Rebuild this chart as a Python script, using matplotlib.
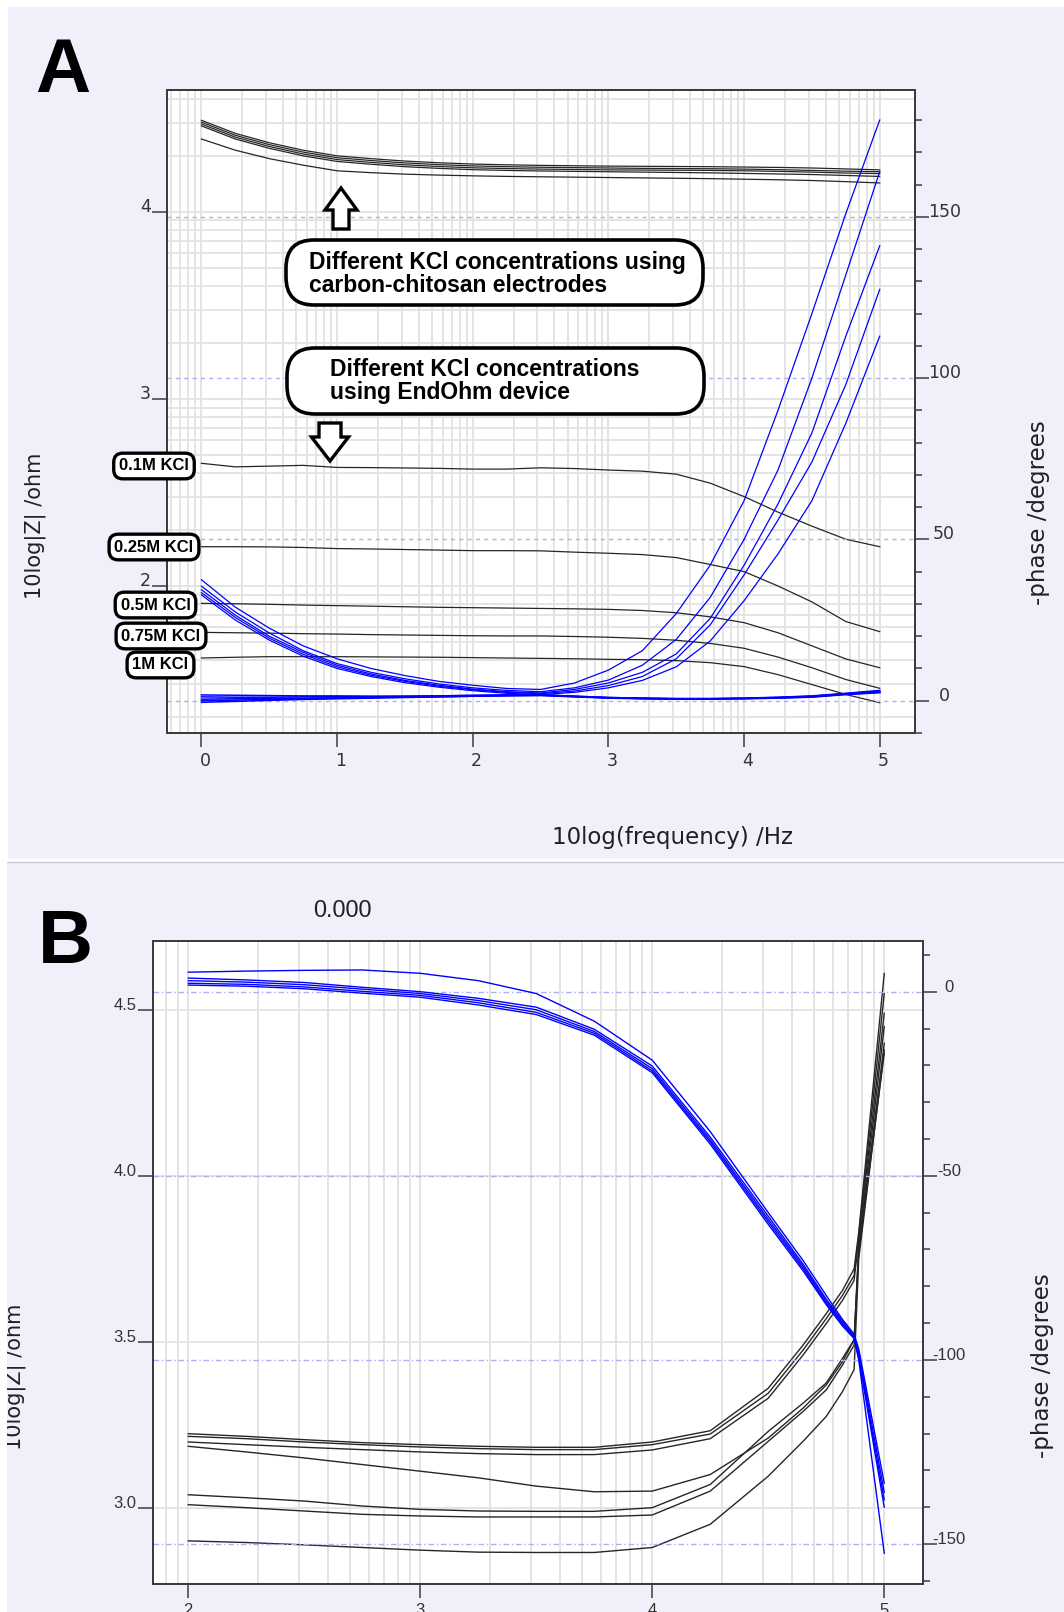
"""
Impedance spectra (|Z| and phase vs frequency) for KCl solutions.

Panel A: carbon-chitosan electrodes vs EndOhm device, 1 Hz - 100 kHz.
Panel B: zoom on 100 Hz - 100 kHz.

Output: out.png
"""

import matplotlib
matplotlib.use("Agg")
import matplotlib.pyplot as plt
import matplotlib.transforms as mtransforms
import numpy as np
from matplotlib import font_manager
from matplotlib.lines import Line2D
from matplotlib.patches import FancyArrow, FancyBboxPatch, Rectangle
from matplotlib.ticker import FixedLocator, NullLocator


W, H = 1064, 1612
LAVENDER = "#F0F0FB"
GRID = "#E2E2E2"
DASH_BLUE = "#AEB0F4"
TICK_COL = "#333333"
SPINE_COL = "#3C3C3C"
BLUE = "#0000FF"
BLACK = "#262626"

_installed = {f.name for f in font_manager.fontManager.ttflist}
NARROW = "Liberation Sans Narrow" if "Liberation Sans Narrow" in _installed else "Liberation Sans"
NARROW_SCALE = 1.0 if NARROW == "Liberation Sans Narrow" else 0.89
BOLD_FONT = "Liberation Sans"

# ---------------- panel A data (10log f, 10log|Z|, -phase) ----------------
freq_a = [0, 0.25, 0.5, 0.75, 1, 1.25, 1.5, 1.75, 2, 2.25, 2.5, 2.75,
          3, 3.25, 3.5, 3.75, 4, 4.25, 4.5, 4.75, 5]

# |Z| carbon-chitosan electrodes (top bundle)
a_z_carbon = [
    [4.49, 4.42, 4.37, 4.33, 4.30, 4.285, 4.272, 4.263, 4.256, 4.252, 4.249,
     4.247, 4.245, 4.244, 4.243, 4.242, 4.240, 4.238, 4.235, 4.230, 4.225],
    [4.48, 4.41, 4.36, 4.32, 4.29, 4.275, 4.262, 4.253, 4.246, 4.242, 4.239,
     4.237, 4.235, 4.233, 4.232, 4.231, 4.229, 4.226, 4.222, 4.218, 4.215],
    [4.47, 4.40, 4.35, 4.31, 4.28, 4.265, 4.252, 4.243, 4.236, 4.232, 4.229,
     4.227, 4.225, 4.224, 4.223, 4.222, 4.220, 4.217, 4.213, 4.208, 4.205],
    [4.46, 4.39, 4.34, 4.30, 4.27, 4.255, 4.242, 4.233, 4.226, 4.222, 4.219,
     4.217, 4.215, 4.213, 4.211, 4.209, 4.206, 4.203, 4.200, 4.195, 4.190],
    [4.39, 4.33, 4.285, 4.25, 4.22, 4.21, 4.202, 4.197, 4.193, 4.190, 4.188,
     4.186, 4.184, 4.182, 4.180, 4.178, 4.175, 4.172, 4.168, 4.162, 4.155],
]

# |Z| EndOhm device, 0.1M, 0.25M, 0.5M, 0.75M, 1M KCl
a_z_endohm = [
    [2.656, 2.637, 2.641, 2.645, 2.634, 2.633, 2.631, 2.629, 2.625, 2.625, 2.632,
     2.628, 2.620, 2.614, 2.598, 2.550, 2.478, 2.395, 2.320, 2.250, 2.210],
    [2.210, 2.210, 2.209, 2.206, 2.200, 2.198, 2.195, 2.192, 2.189, 2.189, 2.188,
     2.181, 2.175, 2.168, 2.152, 2.115, 2.077, 2.000, 1.915, 1.810, 1.756],
    [1.907, 1.905, 1.902, 1.898, 1.895, 1.892, 1.889, 1.886, 1.884, 1.882, 1.880,
     1.878, 1.875, 1.869, 1.857, 1.835, 1.804, 1.750, 1.680, 1.610, 1.563],
    [1.752, 1.750, 1.748, 1.745, 1.743, 1.740, 1.738, 1.736, 1.734, 1.733, 1.733,
     1.730, 1.726, 1.720, 1.710, 1.693, 1.667, 1.620, 1.563, 1.500, 1.453],
    [1.615, 1.619, 1.622, 1.622, 1.622, 1.621, 1.620, 1.619, 1.617, 1.615, 1.613,
     1.611, 1.608, 1.606, 1.601, 1.590, 1.569, 1.526, 1.473, 1.420, 1.376],
]
a_kcl_labels = ["0.1M KCl", "0.25M KCl", "0.5M KCl", "0.75M KCl", "1M KCl"]

# -phase carbon-chitosan electrodes
a_phase_carbon = [
    [37.5, 29.0, 22.5, 17.0, 13.0, 10.0, 7.8, 6.0, 4.8, 3.8, 3.5, 5.5,
     9.5, 15.5, 27.0, 42.0, 62.0, 90.0, 120.0, 151.0, 180.0],
    [35.5, 27.5, 21.0, 15.5, 11.5, 8.8, 6.8, 5.2, 4.0, 3.2, 2.8, 4.0,
     6.4, 11.0, 19.0, 32.0, 50.0, 71.5, 100.0, 132.0, 164.0],
    [34.4, 26.5, 20.0, 15.0, 11.0, 8.3, 6.3, 4.8, 3.6, 2.8, 2.4, 3.5,
     5.5, 8.8, 14.5, 25.5, 42.0, 61.0, 83.0, 113.0, 141.0],
    [33.5, 25.8, 19.4, 14.4, 10.5, 7.9, 6.0, 4.5, 3.4, 2.6, 2.2, 3.0,
     4.7, 7.5, 13.0, 23.5, 39.0, 56.0, 74.0, 98.0, 127.5],
    [32.8, 25.0, 18.8, 13.8, 10.0, 7.5, 5.6, 4.2, 3.1, 2.3, 1.9, 2.6,
     4.0, 6.3, 10.5, 18.5, 31.0, 45.5, 62.0, 86.0, 113.0],
]

# -phase EndOhm device
a_phase_endohm = [
    [1.8, 1.7, 1.6, 1.5, 1.5, 1.4, 1.4, 1.5, 1.6, 1.7, 1.8, 1.3,
     0.9, 0.7, 0.5, 0.5, 0.7, 0.9, 1.2, 2.0, 2.6],
    [0.5, 0.6, 0.7, 0.8, 0.9, 1.0, 1.1, 1.2, 1.4, 1.5, 1.6, 1.2,
     0.8, 0.6, 0.5, 0.5, 0.6, 0.8, 1.1, 1.9, 2.5],
    [-0.5, -0.2, 0.1, 0.4, 0.6, 0.8, 1.0, 1.2, 1.4, 1.6, 1.7, 1.3,
     0.9, 0.7, 0.6, 0.6, 0.7, 0.9, 1.3, 2.1, 2.7],
    [1.2, 1.1, 1.1, 1.2, 1.3, 1.3, 1.4, 1.5, 1.7, 1.8, 1.9, 1.4,
     1.0, 0.8, 0.6, 0.6, 0.8, 1.0, 1.4, 2.2, 3.0],
    [0.0, 0.2, 0.4, 0.6, 0.8, 1.0, 1.2, 1.4, 1.5, 1.7, 1.8, 1.4,
     1.0, 0.8, 0.7, 0.7, 0.8, 1.1, 1.5, 2.3, 3.2],
]

a_xticks = [0, 1, 2, 3, 4, 5]
a_yticks = [2, 3, 4]
a_ytick_labels = ["2", "3", "4"]
a_phase_ticks = [0, 50, 100, 150]
a_phase_labels = ["0", "50", "100", "150"]

# ---------------- panel B data ----------------
freq_b = [2.0, 2.25, 2.5, 2.75, 3.0, 3.25, 3.5, 3.75, 4.0, 4.25,
          4.5, 4.65, 4.75, 4.82, 4.87, 4.89, 5.0]

b_z = [
    [3.223, 3.215, 3.205, 3.196, 3.190, 3.185, 3.182, 3.182, 3.198, 3.232,
     3.360, 3.490, 3.585, 3.655, 3.720, 3.830, 4.610],
    [3.215, 3.208, 3.198, 3.190, 3.183, 3.178, 3.175, 3.175, 3.190, 3.222,
     3.345, 3.475, 3.570, 3.640, 3.700, 3.820, 4.550],
    [3.198, 3.190, 3.182, 3.175, 3.168, 3.163, 3.160, 3.160, 3.174, 3.208,
     3.330, 3.460, 3.555, 3.625, 3.685, 3.810, 4.490],
    [3.185, 3.168, 3.150, 3.130, 3.110, 3.090, 3.065, 3.048, 3.050, 3.100,
     3.210, 3.300, 3.370, 3.440, 3.506, 3.780, 4.400],
    [3.039, 3.030, 3.020, 3.005, 2.995, 2.990, 2.989, 2.989, 3.000, 3.070,
     3.230, 3.315, 3.376, 3.450, 3.506, 3.790, 4.450],
    [3.009, 3.000, 2.990, 2.980, 2.975, 2.972, 2.972, 2.972, 2.978, 3.050,
     3.200, 3.290, 3.355, 3.430, 3.490, 3.770, 4.370],
    [2.900, 2.895, 2.888, 2.880, 2.872, 2.866, 2.865, 2.865, 2.880, 2.950,
     3.095, 3.200, 3.275, 3.350, 3.416, 3.750, 4.380],
]

b_phase = [
    [5.3, 5.6, 5.8, 5.9, 5.0, 3.0, -0.5, -8.0, -18.6, -38.0,
     -60.0, -73.0, -82.5, -89.0, -93.0, -97.0, -133.5],
    [3.7, 3.2, 2.5, 1.2, 0.0, -1.8, -4.2, -10.2, -20.2, -39.5,
     -61.0, -74.0, -83.5, -89.5, -93.5, -98.0, -136.0],
    [3.0, 2.6, 1.9, 0.7, -0.5, -2.4, -4.9, -10.8, -20.9, -40.2,
     -61.8, -74.6, -84.0, -90.0, -93.8, -99.0, -138.0],
    [2.3, 2.0, 1.3, 0.1, -1.0, -3.0, -5.6, -11.3, -21.5, -40.8,
     -62.5, -75.2, -84.6, -90.4, -94.0, -100.0, -152.5],
    [1.8, 1.5, 0.8, -0.4, -1.5, -3.6, -6.2, -11.8, -22.0, -41.4,
     -63.2, -75.8, -85.0, -90.8, -94.2, -99.5, -140.0],
]

b_xticks = [2, 3, 4, 5]
b_yticks = [3.0, 3.5, 4.0, 4.5]
b_ytick_labels = ["3.0", "3.5", "4.0", "4.5"]
b_phase_ticks = [-150, -100, -50, 0]
b_phase_labels = ["-150", "-100", "-50", "0"]


def fx(px: float) -> float:
    return px / W


def fy(py: float) -> float:
    return 1 - py / H


def fig_box(left, top, right, bottom):
    return [fx(left), fy(bottom), (right - left) / W, (bottom - top) / H]


def log_grid(lo: float, hi: float) -> list[float]:
    pos = []
    for d in range(int(np.floor(lo)) - 1, int(np.ceil(hi)) + 1):
        for k in range(1, 10):
            v = d + np.log10(k)
            if lo <= v <= hi:
                pos.append(v)
    return pos


def setup_panel(fig, box, xlim, ylim, ylim2, xticks, yticks, ylabels,
                phase_ticks, phase_labels, phase_minor, y_grid,
                tick_font, tick_size, right_pad, x_shift_px, dashes):
    ax = fig.add_axes(box)
    ax.set_facecolor("white")
    ax.set_xlim(xlim)
    ax.set_ylim(ylim)
    ax.set_xticks(xticks, labels=[str(t) for t in xticks])
    ax.set_yticks(yticks, labels=ylabels)
    ax.xaxis.set_minor_locator(FixedLocator(log_grid(*xlim)))
    if y_grid:
        ax.yaxis.set_minor_locator(FixedLocator(y_grid))
    else:
        ax.yaxis.set_minor_locator(NullLocator())
    ax.grid(True, which="both", color=GRID, lw=1.3)
    ax.tick_params(axis="x", which="major", direction="out", length=10,
                   width=1.1, color=SPINE_COL, pad=4, labelsize=tick_size,
                   labelcolor=TICK_COL)
    ax.tick_params(axis="y", which="major", direction="out", length=10.8,
                   width=1.1, color=SPINE_COL, pad=1, labelsize=tick_size,
                   labelcolor=TICK_COL)
    ax.tick_params(which="minor", length=0)
    for lbl in ax.get_yticklabels():
        lbl.set_va("baseline")
        lbl.set_fontfamily(tick_font)
    shift = mtransforms.ScaledTranslation(x_shift_px / 100, 0, fig.dpi_scale_trans)
    for lbl in ax.get_xticklabels():
        lbl.set_fontfamily(tick_font)
        lbl.set_transform(lbl.get_transform() + shift)

    ax2 = ax.twinx()
    ax2.set_ylim(ylim2)
    ax2.set_yticks(phase_ticks, labels=phase_labels)
    ax2.yaxis.set_minor_locator(FixedLocator(phase_minor))
    ax2.tick_params(axis="y", which="major", direction="out", length=10.2,
                    width=1.1, color=SPINE_COL, pad=right_pad,
                    labelsize=tick_size, labelcolor=TICK_COL)
    ax2.tick_params(axis="y", which="minor", direction="out", length=5,
                    width=1.1, color=SPINE_COL)
    for lbl in ax2.get_yticklabels():
        lbl.set_ha("center")
        lbl.set_va("baseline")
        lbl.set_fontfamily(tick_font)
    for v in phase_ticks:
        ax2.axhline(v, color=DASH_BLUE, lw=1.0, dashes=dashes, zorder=1)

    for a in (ax, ax2):
        for s in a.spines.values():
            s.set_color(SPINE_COL)
            s.set_linewidth(1.4)
    return ax, ax2


def main() -> None:
    fig = plt.figure(figsize=(W / 100, H / 100), dpi=100, facecolor="white")

    # panel backgrounds
    fig.add_artist(Rectangle((fx(8), fy(859)), fx(1064) - fx(8), fy(7) - fy(859),
                             transform=fig.transFigure, fc=LAVENDER, ec="none", zorder=-10))
    fig.add_artist(Rectangle((fx(7), 0), 1 - fx(7), fy(863),
                             transform=fig.transFigure, fc=LAVENDER, ec="none", zorder=-10))
    fig.add_artist(Line2D([fx(7), 1], [fy(862), fy(862)], transform=fig.transFigure,
                          color="#C8C8D6", lw=1.0, zorder=-9))

    # ---------------- panel A ----------------
    ax_a, ax_a2 = setup_panel(
        fig, fig_box(167, 90, 915, 733),
        xlim=(-0.254, 5.26), ylim=(1.214, 4.652), ylim2=(-10.0, 189.3),
        xticks=a_xticks, yticks=a_yticks, ylabels=a_ytick_labels,
        phase_ticks=a_phase_ticks, phase_labels=a_phase_labels,
        phase_minor=list(range(-10, 190, 10)),
        y_grid=log_grid(1.214, 4.652),
        tick_font="DejaVu Sans", tick_size=12.5, right_pad=10.8,
        x_shift_px=3.5, dashes=(3, 3),
    )
    for z in a_z_carbon:
        ax_a.plot(freq_a, z, color=BLACK, lw=0.9)
    for z in a_z_endohm:
        ax_a.plot(freq_a, z, color=BLACK, lw=0.9)
    for p in a_phase_carbon:
        ax_a2.plot(freq_a, p, color=BLUE, lw=0.9)
    for p in a_phase_endohm:
        ax_a2.plot(freq_a, p, color=BLUE, lw=1.1)

    fig.text(fx(35), fy(92), "A", ha="left", va="baseline", fontsize=55,
             fontweight="bold", family=BOLD_FONT)
    fig.text(fx(35), fy(526), "10log|Z| /ohm", rotation=90, ha="center",
             va="center", fontsize=15, color="#202020")
    fig.text(fx(672), fy(837), "10log(frequency) /Hz", ha="center",
             va="center", fontsize=16.5, color="#202020")
    fig.text(fx(1039), fy(513), "-phase /degrees", rotation=90, ha="center",
             va="center", fontsize=16.5, color="#202020")

    # callout boxes
    callouts = [
        ((286, 240, 703, 305), "Different KCl concentrations using\ncarbon-chitosan electrodes", (309, 274)),
        ((287, 348, 704, 414), "Different KCl concentrations\nusing EndOhm device", (330, 381)),
    ]
    for (l, t, r, b), txt, (tx, ty) in callouts:
        fig.add_artist(FancyBboxPatch(
            (l / 100, (H - b) / 100), (r - l) / 100, (b - t) / 100,
            boxstyle="round,pad=0,rounding_size=0.28",
            transform=fig.dpi_scale_trans, fc="white", ec="black", lw=2.6, zorder=5))
        fig.text(fx(tx), fy(ty), txt, ha="left", va="center", fontsize=16.5,
                 fontweight="bold", family=BOLD_FONT, linespacing=1.05, zorder=6)

    # hollow arrows
    fig.add_artist(FancyArrow(3.41, (H - 229) / 100, 0, 0.41, width=0.16,
                              head_width=0.32, head_length=0.22,
                              length_includes_head=True, transform=fig.dpi_scale_trans,
                              fc="white", ec="black", lw=2.4, zorder=5))
    fig.add_artist(FancyArrow(3.30, (H - 423) / 100, 0, -0.38, width=0.22,
                              head_width=0.37, head_length=0.24,
                              length_includes_head=True, transform=fig.dpi_scale_trans,
                              fc="white", ec="black", lw=2.4, zorder=5))

    # concentration tags
    tag_pos = [(154, 466), (154, 547), (155.5, 605), (161, 636), (160.5, 665)]
    for txt, (cx, cy) in zip(a_kcl_labels, tag_pos):
        fig.text(fx(cx), fy(cy), txt, ha="center", va="center", fontsize=12,
                 fontweight="bold", family=BOLD_FONT, zorder=6,
                 bbox=dict(boxstyle="round,pad=0.32,rounding_size=0.55",
                           fc="white", ec="black", lw=2.4))

    # ---------------- panel B ----------------
    ax_b, ax_b2 = setup_panel(
        fig, fig_box(153, 941, 923, 1584),
        xlim=(1.848, 5.167), ylim=(2.770, 4.708), ylim2=(-160.86, 13.77),
        xticks=b_xticks, yticks=b_yticks, ylabels=b_ytick_labels,
        phase_ticks=b_phase_ticks, phase_labels=b_phase_labels,
        phase_minor=list(range(-160, 20, 10)),
        y_grid=None,
        tick_font=NARROW, tick_size=13.5 * NARROW_SCALE, right_pad=8.6,
        x_shift_px=0, dashes=(4, 2, 1, 2),
    )
    for z in b_z:
        ax_b.plot(freq_b, z, color=BLACK, lw=1.0)
    for p in b_phase:
        ax_b2.plot(freq_b, p, color=BLUE, lw=1.0)

    fig.text(fx(38), fy(963), "B", ha="left", va="baseline", fontsize=55,
             fontweight="bold", family=BOLD_FONT)
    fig.text(fx(342), fy(910), "0.000", ha="center", va="center",
             fontsize=19 * NARROW_SCALE, family=NARROW, color="#202020")
    fig.text(fx(15), fy(1377), "10log|Z| /ohm", rotation=90, ha="center",
             va="center", fontsize=15, color="#202020")
    fig.text(fx(1043), fy(1366), "-phase /degrees", rotation=90, ha="center",
             va="center", fontsize=16.5, color="#202020")

    # cropped left margin
    fig.add_artist(Rectangle((0, 0), fx(7), 1, transform=fig.transFigure,
                             fc="white", ec="none", zorder=20))

    fig.savefig("out.png", dpi=100, facecolor="white")
    plt.close(fig)


if __name__ == "__main__":
    main()
